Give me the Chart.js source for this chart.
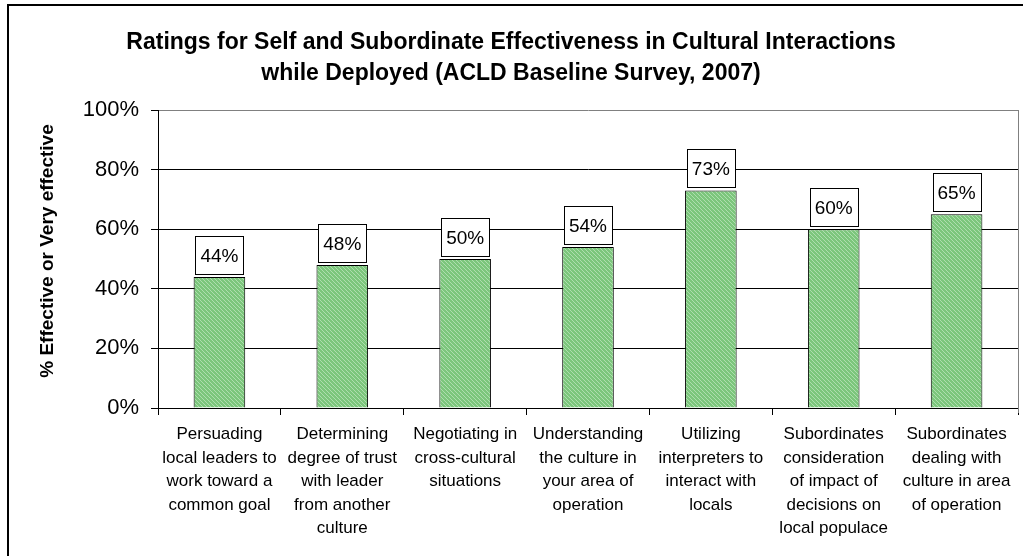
<!DOCTYPE html>
<html lang="en">
<head>
    <meta charset="UTF-8">
    <title>Ratings for Self and Subordinate Effectiveness</title>
    <script src="https://cdn.jsdelivr.net/npm/chart.js"></script>
    <style>
        html, body { margin: 0; padding: 0; background: #fff; }
        #wrap { width: 1023px; height: 556px; position: relative; }
    </style>
</head>
<body>
    <div id="wrap"><canvas id="ratingsChart"></canvas></div>
    <script>
        // Data
        const categories = [
            ['Persuading', 'local leaders to', 'work toward a', 'common goal'],
            ['Determining', 'degree of trust', 'with leader', 'from another', 'culture'],
            ['Negotiating in', 'cross-cultural', 'situations'],
            ['Understanding', 'the culture in', 'your area of', 'operation'],
            ['Utilizing', 'interpreters to', 'interact with', 'locals'],
            ['Subordinates', 'consideration', 'of impact of', 'decisions on', 'local populace'],
            ['Subordinates', 'dealing with', 'culture in area', 'of operation']
        ];
        const percentEffective = [44, 48, 50, 54, 73, 60, 65];
        const yTicks = [0, 20, 40, 60, 80, 100];
        const titleLines = [
            'Ratings for Self and Subordinate Effectiveness in Cultural Interactions',
            'while Deployed (ACLD Baseline Survey, 2007)'
        ];
        const yTitle = '% Effective or Very effective';

        const FONT = 'Arial, "Liberation Sans", sans-serif';

        // small hatched green fill like the original
        function makePattern() {
            const c = document.createElement('canvas');
            c.width = 4; c.height = 4;
            const g = c.getContext('2d');
            g.fillStyle = '#7cc67c';
            g.fillRect(0, 0, 4, 4);
            g.fillStyle = '#aedeae';
            for (let i = 0; i < 4; i++) {
                g.fillRect(i, i, 1, 1);
            }
            return g.createPattern(c, 'repeat');
        }

        const frame = {
            id: 'frame',
            beforeDraw(chart) {
                const ctx = chart.ctx;
                ctx.save();
                ctx.fillStyle = '#fff';
                ctx.fillRect(0, 0, chart.width, chart.height);
                ctx.restore();
            },
            afterDraw(chart) {
                const ctx = chart.ctx;
                const a = chart.chartArea;
                ctx.save();
                // outer border
                ctx.strokeStyle = '#000';
                ctx.lineWidth = 2;
                ctx.strokeRect(8, 5, chart.width + 20, chart.height + 20);
                // right side of plot area
                ctx.strokeStyle = '#808080';
                ctx.lineWidth = 1;
                ctx.beginPath();
                ctx.moveTo(Math.round(a.right) + 0.5, a.top);
                ctx.lineTo(Math.round(a.right) + 0.5, a.bottom + 5);
                ctx.stroke();
                // title
                ctx.fillStyle = '#000';
                ctx.font = 'bold 23px ' + FONT;
                ctx.textAlign = 'center';
                ctx.textBaseline = 'middle';
                titleLines.forEach((t, i) => ctx.fillText(t, 511, 43 + i * 31));
                // y axis title
                ctx.translate(48, 251);
                ctx.rotate(-Math.PI / 2);
                ctx.font = 'bold 19px ' + FONT;
                ctx.fillText(yTitle, 0, 0);
                ctx.restore();
            }
        };

        const valueBoxes = {
            id: 'valueBoxes',
            afterDatasetsDraw(chart) {
                const ctx = chart.ctx;
                const meta = chart.getDatasetMeta(0);
                ctx.save();
                ctx.font = '19px ' + FONT;
                ctx.textAlign = 'center';
                ctx.textBaseline = 'middle';
                meta.data.forEach((bar, i) => {
                    const w = 48, h = 38;
                    const x = Math.round(bar.x - w / 2) + 0.5;
                    const y = Math.round(bar.y - 3 - h) + 0.5;
                    ctx.fillStyle = '#fff';
                    ctx.fillRect(x, y, w, h);
                    ctx.strokeStyle = '#000';
                    ctx.lineWidth = 1;
                    ctx.strokeRect(x, y, w, h);
                    ctx.fillStyle = '#000';
                    ctx.fillText(percentEffective[i] + '%', bar.x, y + h / 2 + 1);
                });
                ctx.restore();
            }
        };

        const ctx = document.getElementById('ratingsChart').getContext('2d');
        new Chart(ctx, {
            type: 'bar',
            data: {
                labels: categories,
                datasets: [{
                    data: percentEffective,
                    backgroundColor: makePattern(),
                    borderColor: '#000',
                    borderWidth: 1,
                    categoryPercentage: 1,
                    barPercentage: 0.42
                }]
            },
            options: {
                responsive: true,
                maintainAspectRatio: false,
                animation: false,
                layout: { padding: { top: 110, right: 5, left: 0, bottom: 0 } },
                plugins: {
                    legend: { display: false },
                    tooltip: { enabled: false }
                },
                scales: {
                    x: {
                        grid: {
                            offset: true,
                            drawOnChartArea: false,
                            tickLength: 7,
                            tickColor: '#000'
                        },
                        border: { color: '#000', width: 1 },
                        ticks: {
                            color: '#000',
                            padding: 8,
                            maxRotation: 0,
                            autoSkip: false,
                            font: { family: FONT, size: 17, lineHeight: '23.5px' }
                        },
                        afterFit(scale) { scale.height = 148; }
                    },
                    y: {
                        min: 0,
                        max: 100,
                        afterBuildTicks(scale) {
                            scale.ticks = yTicks.map(v => ({ value: v }));
                        },
                        grid: {
                            color: c => c.tick && c.tick.value === 100 ? '#808080' : '#000',
                            tickColor: '#000',
                            tickLength: 7,
                            lineWidth: 1
                        },
                        border: { color: '#000', width: 1 },
                        ticks: {
                            color: '#000',
                            padding: 12,
                            font: { family: FONT, size: 22 },
                            callback: v => v + '%'
                        },
                        afterFit(scale) { scale.width = 158; }
                    }
                }
            },
            plugins: [frame, valueBoxes]
        });
    </script>
</body>
</html>
